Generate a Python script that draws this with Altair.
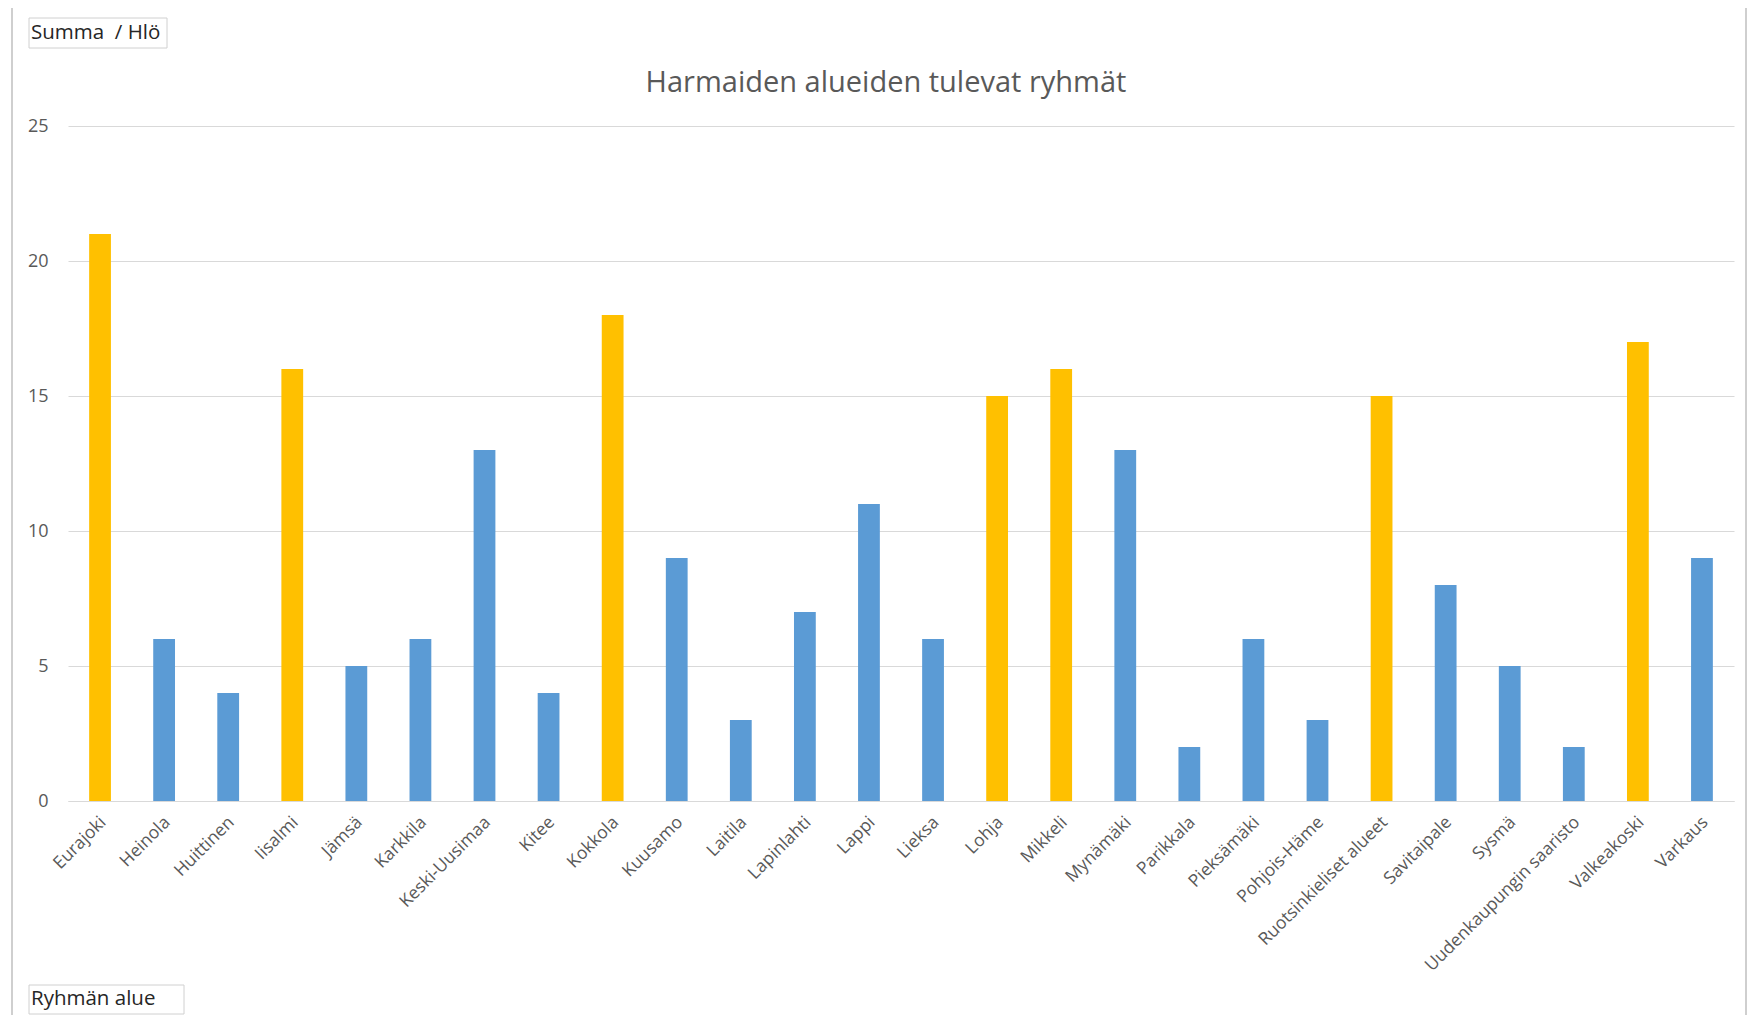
import altair as alt
import pandas as pd

areas = ["Eurajoki", "Heinola", "Huittinen", "Iisalmi", "Jämsä", "Karkkila",
         "Keski-Uusimaa", "Kitee", "Kokkola", "Kuusamo", "Laitila", "Lapinlahti",
         "Lappi", "Lieksa", "Lohja", "Mikkeli", "Mynämäki", "Parikkala",
         "Pieksämäki", "Pohjois-Häme", "Ruotsinkieliset alueet", "Savitaipale",
         "Sysmä", "Uudenkaupungin saaristo", "Valkeakoski", "Varkaus"]
values = [21, 6, 4, 16, 5, 6, 13, 4, 18, 9, 3, 7, 11, 6, 15, 16, 13, 2, 6, 3,
          15, 8, 5, 2, 17, 9]
groups = ["suuri", "muu", "muu", "suuri", "muu", "muu", "muu", "muu", "suuri",
          "muu", "muu", "muu", "muu", "muu", "suuri", "suuri", "muu", "muu",
          "muu", "muu", "suuri", "muu", "muu", "muu", "suuri", "muu"]
y_ticks = [0, 5, 10, 15, 20, 25]

title_text = "Harmaiden alueiden tulevat ryhmät"
value_button = "Summa\u00a0 / Hlö"
axis_button = "Ryhmän alue"

FONT = "Open Sans"
df = pd.DataFrame({"alue": areas, "hlo": values, "ryhma": groups})

bars = alt.Chart(df).mark_bar().encode(
    x=alt.X("alue:N", sort=None,
            scale=alt.Scale(paddingInner=0.66, paddingOuter=0.33),
            axis=alt.Axis(title=None, labelAngle=-45, labelFontSize=17.5,
                          labelColor="#595959", labelFont=FONT, ticks=False,
                          domainColor="#D9D9D9", labelPadding=12, grid=False,
                          labelLimit=400, labelOffset=-3)),
    y=alt.Y("hlo:Q", scale=alt.Scale(domain=[0, 25], nice=False),
            axis=alt.Axis(title=None, values=y_ticks, labelFontSize=18,
                          labelColor="#595959", labelFont=FONT, ticks=False,
                          domain=False, gridColor="#D9D9D9", labelPadding=20)),
    color=alt.Color("ryhma:N",
                    scale=alt.Scale(domain=["suuri", "muu"],
                                    range=["#FFC000", "#5B9BD5"]),
                    legend=None),
)

frame = alt.Chart(pd.DataFrame({"k": [0]})).mark_rect(
    fill=None, stroke="#CFCFCF", strokeWidth=2
).encode(x=alt.value(-56), x2=alt.value(1678), y=alt.value(-121), y2=alt.value(910))

title = alt.Chart(pd.DataFrame({"t": [title_text]})).mark_text(
    font=FONT, fontSize=29, color="#595959", align="center", baseline="middle"
).encode(text="t:N", x=alt.value(818), y=alt.value(-43))

btn1_box = alt.Chart(pd.DataFrame({"k": [0]})).mark_rect(
    fill="white", stroke="#D0D0D0", strokeWidth=1
).encode(x=alt.value(-39), x2=alt.value(99), y=alt.value(-108), y2=alt.value(-78))
btn1_text = alt.Chart(pd.DataFrame({"t": [value_button]})).mark_text(
    font=FONT, fontSize=20.5, color="#262626", align="left", baseline="middle"
).encode(text="t:N", x=alt.value(-37), y=alt.value(-93))

btn2_box = alt.Chart(pd.DataFrame({"k": [0]})).mark_rect(
    fill="white", stroke="#D0D0D0", strokeWidth=1
).encode(x=alt.value(-39), x2=alt.value(116), y=alt.value(859), y2=alt.value(888))
btn2_text = alt.Chart(pd.DataFrame({"t": [axis_button]})).mark_text(
    font=FONT, fontSize=20.5, color="#262626", align="left", baseline="middle"
).encode(text="t:N", x=alt.value(-37), y=alt.value(873))

chart = alt.layer(frame, bars, title, btn1_box, btn1_text, btn2_box, btn2_text).properties(
    width=1666, height=675,
    autosize=alt.AutoSizeParams(type="none"),
    padding={"left": 60, "top": 118, "right": 17, "bottom": 214},
    background="white",
).configure_view(stroke=None)

chart.save("out.html", embed_options={"renderer": "svg", "actions": False})
